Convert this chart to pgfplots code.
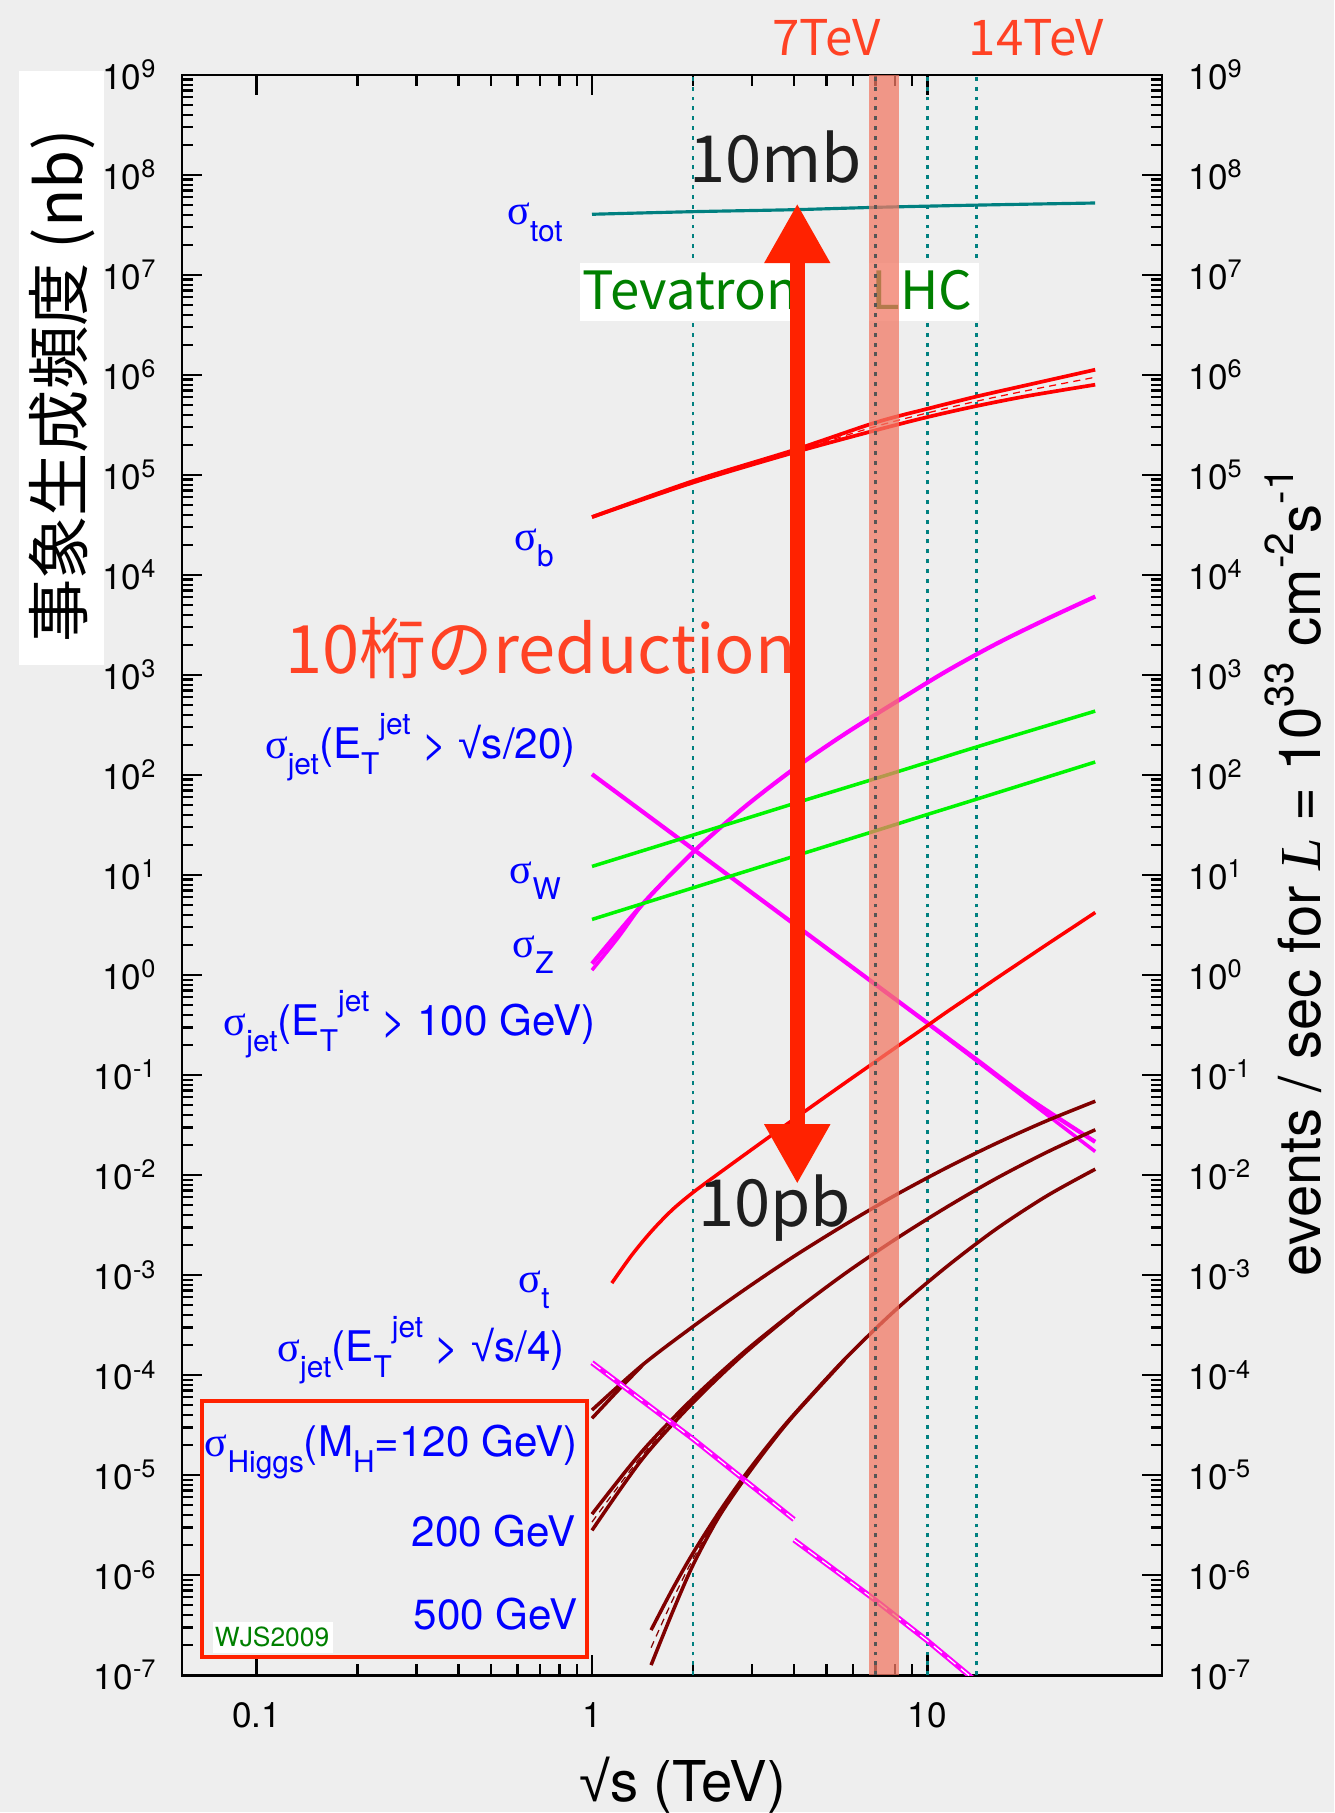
\documentclass[border=0pt]{standalone}
\usepackage{pgfplots}
\usepackage{pgfplotstable}
\pgfplotsset{compat=1.18}
\usetikzlibrary{arrows.meta}
\usepackage{fontspec}
\setmainfont{TeX Gyre Heros}
\newfontfamily\jpf{Noto Sans CJK JP}
\newfontfamily\serf{Liberation Serif}
\newfontfamily\arial{Liberation Sans}

\definecolor{paper}{RGB}{238,238,238}
\definecolor{cteal}{RGB}{0,128,128}
\definecolor{cred}{RGB}{255,0,0}
\definecolor{cmag}{RGB}{255,0,255}
\definecolor{cgreen}{RGB}{0,245,0}
\definecolor{cmaroon}{RGB}{128,0,0}
\definecolor{cblue}{RGB}{0,0,255}
\definecolor{corange}{RGB}{255,66,36}
\definecolor{carrow}{RGB}{255,34,0}
\definecolor{ctev}{RGB}{0,128,0}
\definecolor{cband}{RGB}{241,121,101}
\definecolor{cdark}{RGB}{30,30,30}
\definecolor{cdot}{RGB}{85,85,85}

\newcommand\sig{{\serf σ}}
\newcommand\rt{{\arial √}}
\newcommand\sbs[1]{\raisebox{-4.6pt}{\fontsize{8.5}{9}\selectfont #1}}
\newcommand\sps[1]{\raisebox{6.8pt}{\fontsize{8.5}{9}\selectfont #1}}
\newcommand\ten[1]{10\raisebox{3.3pt}{\fontsize{7.2}{8}\selectfont #1}}
\newcommand\bigsup[1]{\raisebox{7.5pt}{\fontsize{11.5}{12}\selectfont #1}}

% cross sections (nb) versus sqrt(s) (TeV)
\pgfplotstableread{
x y
1 4.05e7
2 4.3e7
4 4.5e7
7 4.75e7
14 5.0e7
31.6 5.25e7
}\sigtot
\pgfplotstableread{
x y
1 3.8e4
2 8.7e4
4 1.78e5
7 3.35e5
10 4.6e5
14 6.1e5
20 8.0e5
31.6 1.13e6
}\sigbup
\pgfplotstableread{
x y
1 3.8e4
2 8.4e4
4 1.68e5
7 2.8e5
10 3.8e5
14 4.9e5
20 6.2e5
31.6 8.0e5
}\sigblo
\pgfplotstableread{
x y
2 8.55e4
4 1.73e5
7 3.06e5
10 4.18e5
14 5.47e5
20 7.04e5
31.6 9.5e5
}\sigbmid
\pgfplotstableread{
x y
1 1.30
1.4125 5.09
2 16.9
2.831 47.1
4 115.6
5.662 257
8 531
11.32 1081
16 2046
22.65 3631
31.62 6095
}\jethundred
\pgfplotstableread{
x y
1 1.12
1.2 2.4
1.4 4.9
1.6 8.0
}\jethundredlo
\pgfplotstableread{
x y
1 102
2 18.2
4 3.24
7 0.805
10 0.331
14 0.143
20 0.0585
31.6 0.0215
}\jettwenty
\pgfplotstableread{
x y
10 0.328
14 0.139
20 0.0555
31.6 0.0172
}\jettwentylo
\pgfplotstableread{
x y
1 12.2
2 25.1
4 51.9
7 92.3
10 134
14 191
31.6 436
}\sigW
\pgfplotstableread{
x y
1 3.6
2 7.45
4 15.4
7 27.7
10 40.4
14 57.4
31.6 135
}\sigZ
\pgfplotstableread{
x y
1.146 8.32e-4
1.318 1.607e-3
1.514 2.812e-3
1.738 4.519e-3
2.0 6.699e-3
2.377 0.01028
2.831 0.01574
3.365 0.02393
4.0 0.03631
4.753 0.05483
5.662 0.08299
6.730 0.1245
8.0 0.1866
9.506 0.2780
11.32 0.4198
13.46 0.6223
16.0 0.9226
19.01 1.361
22.65 2.018
26.92 2.958
31.62 4.227
}\sigt
\pgfplotstableread{
x y
1 4.47e-5
1.4125 1.26e-4
2 3.06e-4
2.831 7.05e-4
4 1.54e-3
5.662 3.18e-3
8 6.27e-3
11.32 0.0117
16 0.0207
22.65 0.0349
31.62 0.0548
}\hatwenty
\pgfplotstableread{
x y
1 3.7e-5
1.19 6.9e-5
1.4125 1.25e-4
}\hatwentylo
\pgfplotstableread{
x y
1 4.07e-6
1.4125 1.74e-5
2 5.86e-5
2.831 1.69e-4
4 4.31e-4
5.662 1.03e-3
8 2.27e-3
11.32 4.71e-3
16 9.23e-3
22.65 0.0169
31.62 0.0284
}\hbtwohundred
\pgfplotstableread{
x y
1 2.8e-6
1.4125 1.45e-5
2 5.3e-5
2.831 1.62e-4
4 4.27e-4
}\hbtwohundredlo
\pgfplotstableread{
x y
1 3.39e-6
1.4125 1.58e-5
2 5.57e-5
2.831 1.66e-4
4 4.29e-4
}\hbtwohundredmid
\pgfplotstableread{
x y
1.5 2.82e-7
1.733 7.13e-7
2 1.66e-6
2.377 4.13e-6
2.831 9.57e-6
3.365 2.03e-5
4 4.05e-5
5.662 1.44e-4
8 4.43e-4
11.32 1.19e-3
16 2.88e-3
22.65 6.18e-3
31.62 0.01146
}\hcfivehundred
\pgfplotstableread{
x y
1.5 1.26e-7
1.733 4.17e-7
2 1.26e-6
2.377 3.72e-6
2.831 8.91e-6
3.365 1.95e-5
4 3.98e-5
5.662 1.43e-4
}\hcfivehundredlo
\pgfplotstableread{
x y
1.5 1.88e-7
1.733 5.5e-7
2 1.45e-6
2.377 3.92e-6
2.831 9.2e-6
3.365 1.99e-5
4 4.01e-5
5.662 1.44e-4
}\hcfivehundredmid
\pgfplotstableread{
x y
1 1.33e-4
2 2.3e-5
4 3.6e-6
}\jetquarterA
\pgfplotstableread{
x y
4 2.25e-6
7 5.6e-7
10 2.2e-7
14 8.6e-8
}\jetquarterB

\tikzset{
  xsecline/.style={line width=1pt, smooth},
  xsecmid/.style={line width=0.35pt, dash pattern=on 2pt off 1.5pt, smooth},
  refline/.style={cteal, line width=0.7pt, dash pattern=on 1.1pt off 1.7pt},
}

\begin{document}
\begin{tikzpicture}
\begin{scope}[shift={(0,18.13cm)}, x=0.01cm, y=-0.01cm]
  \path[use as bounding box] (0,0) rectangle (1335,1813);
  \fill[paper] (0,0) rectangle (1335,1813);
  \fill[white] (19,71) rectangle (104,665);
\end{scope}

\begin{axis}[
  at={(1.82cm,1.38cm)}, anchor=south west,
  width=9.8cm, height=16cm, scale only axis,
  xmode=log, ymode=log,
  xmin=0.06, xmax=50, ymin=1e-7, ymax=1e9,
  ytick={1e-7,1e-6,1e-5,1e-4,1e-3,1e-2,1e-1,1,10,100,1e3,1e4,1e5,1e6,1e7,1e8,1e9},
  yticklabels={\ten{-7},\ten{-6},\ten{-5},\ten{-4},\ten{-3},\ten{-2},\ten{-1},\ten{0},\ten{1},\ten{2},\ten{3},\ten{4},\ten{5},\ten{6},\ten{7},\ten{8},\ten{9}},
  xtick={0.1,1,10}, xticklabels={0.1,1,10},
  xticklabel style={font=\fontsize{10}{12}\selectfont, yshift=-4.3pt},
  yticklabel style={font=\fontsize{10}{12}\selectfont, xshift=-4pt},
  tick align=inside,
  major tick length=5.7pt, minor tick length=3.1pt,
  tick style={black, line width=0.65pt},
  axis line style={line width=0.8pt},
]
  % reference energies
  \addplot[refline] coordinates {(2,1e-7) (2,1e9)};
  \addplot[refline] coordinates {(10,1e-7) (10,1e9)};
  \addplot[refline] coordinates {(14,1e-7) (14,1e9)};

  \addplot[cteal, xsecline, line width=0.9pt] table {\sigtot};

  \addplot[cred, xsecline, line width=1.05pt] table {\sigbup};
  \addplot[cred, xsecline, line width=1.05pt] table {\sigblo};
  \addplot[cred, xsecmid] table {\sigbmid};

  \addplot[cmag, xsecline, line width=1.2pt] table {\jethundred};
  \addplot[cmag, xsecline, line width=1.0pt] table {\jethundredlo};
  \addplot[cmag, xsecline, line width=1.2pt] table {\jettwenty};
  \addplot[cmag, xsecline, line width=1.0pt] table {\jettwentylo};

  \addplot[cgreen, xsecline] table {\sigW};
  \addplot[cgreen, xsecline] table {\sigZ};

  \addplot[cred, xsecline] table {\sigt};

  \addplot[cmaroon, xsecline] table {\hatwenty};
  \addplot[cmaroon, xsecline] table {\hatwentylo};
  \addplot[cmaroon, xsecline] table {\hbtwohundred};
  \addplot[cmaroon, xsecline] table {\hbtwohundredlo};
  \addplot[cmaroon, xsecmid] table {\hbtwohundredmid};
  \addplot[cmaroon, xsecline] table {\hcfivehundred};
  \addplot[cmaroon, xsecline] table {\hcfivehundredlo};
  \addplot[cmaroon, xsecmid] table {\hcfivehundredmid};

  \addplot[cmag, line width=1.5pt] table {\jetquarterA};
  \addplot[white, line width=0.35pt, dash pattern=on 3pt off 2pt] table {\jetquarterA};
  \addplot[cmag, line width=1.5pt] table {\jetquarterB};
  \addplot[white, line width=0.35pt, dash pattern=on 3pt off 2pt] table {\jetquarterB};
\end{axis}

\begin{scope}[shift={(0,18.13cm)}, x=0.01cm, y=-0.01cm,
  every node/.style={inner sep=0pt, outer sep=0pt}]
  % collider energies
  \node[anchor=base, text=corange, font=\jpf\fontsize{14}{16}\selectfont] at (827,56) {7TeV};
  \node[anchor=base, text=corange, font=\jpf\fontsize{14}{16}\selectfont] at (1037,56) {14TeV};
  \node[anchor=base, text=cdark, font=\jpf\fontsize{18.5}{20}\selectfont] at (776,183) {10mb};
  \node[anchor=base, text=cdark, font=\jpf\fontsize{18.5}{20}\selectfont] at (775,1227) {10pb};
  \fill[white] (580,263) rectangle (792,321);
  \node[anchor=base west, text=ctev, font=\jpf\fontsize{15}{17}\selectfont] at (583,310) {Tevatron};
  \fill[white] (869.6,263) rectangle (979.7,321);
  \node[anchor=base west, text=ctev, font=\jpf\fontsize{15}{17}\selectfont] at (872,310) {LHC};
  \node[anchor=base west, text=corange, font=\jpf\fontsize{19}{21}\selectfont] at (286,674) {10桁のreduction};

  % process names
  \begin{scope}[every node/.append style={text=cblue, font=\fontsize{12}{14}\selectfont}]
    \node[anchor=base east] at (563,225) {\sig\sbs{tot}};
    \node[anchor=base east] at (554,551) {\sig\sbs{b}};
    \node[anchor=base east] at (576,759) {\sig\sbs{jet}(E\sbs{T}\sps{jet} > \rt s/20)};
    \node[anchor=base east] at (561,884) {\sig\sbs{W}};
    \node[anchor=base east] at (554,958) {\sig\sbs{Z}};
    \node[anchor=base east] at (596,1036) {\sig\sbs{jet}(E\sbs{T}\sps{jet} > 100 GeV)};
    \node[anchor=base east] at (550,1293) {\sig\sbs{t}};
    \node[anchor=base east] at (565,1362) {\sig\sbs{jet}(E\sbs{T}\sps{jet} > \rt s/4)};
    \node[anchor=base west] at (205,1457) {\sig\sbs{Higgs}(M\sbs{H}=120 GeV)};
    \node[anchor=base east] at (576,1547) {200 GeV};
    \node[anchor=base east] at (578,1630) {500 GeV};
  \end{scope}
  \draw[carrow, line width=1.2pt] (202,1402) rectangle (587,1657.5);
  \fill[white] (213,1623) rectangle (333,1654);
  \node[anchor=base west, text=ctev, font=\fontsize{7.5}{9}\selectfont] at (215,1647) {WJS2009};

  % axis titles
  \node[rotate=90, font=\jpf\fontsize{18}{20}\selectfont] at (62,386) {事象生成頻度 (nb)};
  \node[rotate=90, anchor=base, font=\fontsize{16.5}{18}\selectfont] at (1321,873)
    {events / sec for {\serf\itshape L} = 10\bigsup{33} cm\bigsup{-2}s\bigsup{-1}};
  \node[anchor=base, font=\fontsize{16}{18}\selectfont] at (683,1802) {\rt s (TeV)};
\end{scope}

\begin{axis}[
  at={(1.82cm,1.38cm)}, anchor=south west,
  width=9.8cm, height=16cm, scale only axis,
  xmode=log, ymode=log,
  xmin=0.06, xmax=50, ymin=1e-7, ymax=1e9,
  ytick={1e-7,1e-6,1e-5,1e-4,1e-3,1e-2,1e-1,1,10,100,1e3,1e4,1e5,1e6,1e7,1e8,1e9},
  yticklabels={\ten{-7},\ten{-6},\ten{-5},\ten{-4},\ten{-3},\ten{-2},\ten{-1},\ten{0},\ten{1},\ten{2},\ten{3},\ten{4},\ten{5},\ten{6},\ten{7},\ten{8},\ten{9}},
  hide x axis,
  axis y line*=right,
  y axis line style={draw=none},
  major tick length=0pt, minor tick length=0pt,
  yticklabel style={font=\fontsize{10}{12}\selectfont, xshift=4pt},
]
  % LHC energy band
  \fill[cband, fill opacity=0.75] (axis cs:6.7,1e-7) rectangle (axis cs:8.21,1e9);
  \addplot[cdot, line width=0.65pt, dash pattern=on 1.1pt off 1.7pt] coordinates {(7,1e-7) (7,1e9)};
  % ten orders of magnitude
  \draw[carrow, line width=4.2pt,
        {Triangle[length=17pt,width=17.6pt]}-{Triangle[length=17pt,width=17.6pt]}]
        (axis cs:4.09,5.2e7) -- (axis cs:4.09,8.15e-3);
\end{axis}
\end{tikzpicture}
\end{document}
